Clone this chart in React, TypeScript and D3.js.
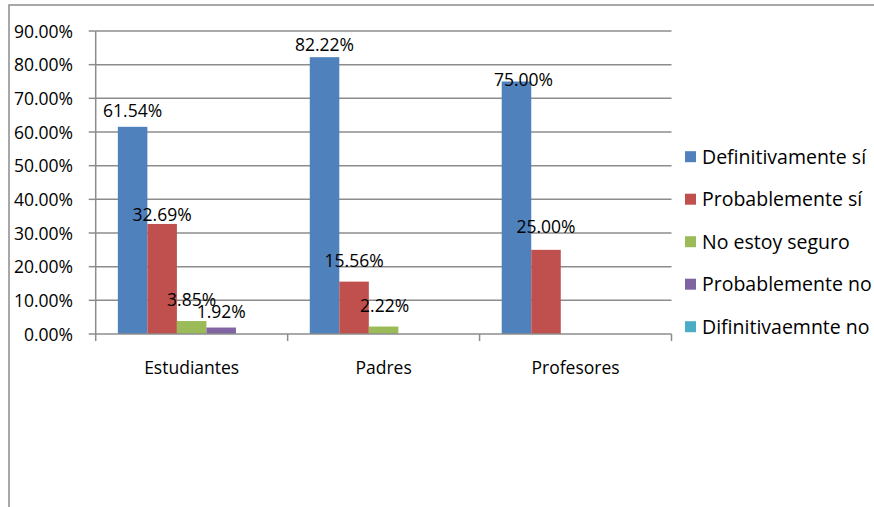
import React from "react";
import * as d3 from "d3";

const categories = ["Estudiantes", "Padres", "Profesores"];
const seriesNames = [
  "Definitivamente sí",
  "Probablemente sí",
  "No estoy seguro",
  "Probablemente no",
  "Difinitivaemnte no",
];
const seriesColors = ["#4F81BD", "#C0504D", "#9BBB59", "#8064A2", "#4BACC6"];
// values[series][category], null = no bar / no label
const definitivamenteSi = [61.54, 82.22, 75.0];
const probablementeSi = [32.69, 15.56, 25.0];
const noEstoySeguro = [3.85, 2.22, null];
const probablementeNo = [1.92, null, null];
const difinitivamenteNo = [null, null, null];
const seriesValues = [definitivamenteSi, probablementeSi, noEstoySeguro, probablementeNo, difinitivamenteNo];
const yTicks = [0, 10, 20, 30, 40, 50, 60, 70, 80, 90];

// label placement tweaks (px) [series][category]: [dx, dy above bar top]
const labelShift: Array<Array<[number, number]>> = [
  [[0, 10], [0, 6], [7, -4]],
  [[0, 3], [0, 15], [0, 17]],
  [[0, 15], [1, 15], [0, 0]],
  [[0, 10], [0, 0], [0, 0]],
  [[0, 0], [0, 0], [0, 0]],
];

const FONT = "'Open Sans', sans-serif";

export default function App() {
  const W = 874;
  const H = 507;
  const left = 95.7;
  const right = 671.5;
  const top = 31;
  const bottom = 334;

  const y = d3.scaleLinear().domain([0, 90]).range([bottom, top]);
  const x0 = d3.scaleBand().domain(categories).range([left, right]).paddingInner(0).paddingOuter(0);
  const x1 = d3
    .scaleBand()
    .domain(seriesNames)
    .range([0, x0.bandwidth()])
    .paddingOuter(0.75)
    .paddingInner(0);

  const grid = "#8C8C8C";
  const fs = 17.5;
  const legendFs = 19.5;

  return (
    <svg
      width={W}
      height={H}
      style={{ position: "absolute", left: 0, top: 0, background: "#fff" }}
      fontFamily={FONT}
    >
      <rect x={0} y={0} width={W} height={H} fill="#fff" />
      {/* outer chart border */}
      <rect x={9} y={5} width={W + 20} height={H + 20} fill="none" stroke="#8C8C8C" strokeWidth={1.5} />

      {/* gridlines */}
      {yTicks.map((t) => (
        <g key={t}>
          {t > 0 && (
            <line x1={left} x2={right} y1={y(t)} y2={y(t)} stroke={grid} strokeWidth={1.5} />
          )}
          <line x1={left - 7} x2={left} y1={y(t)} y2={y(t)} stroke={grid} strokeWidth={1.5} />
          <text
            x={73}
            y={y(t)}
            dy="0.38em"
            textAnchor="end"
            fontSize={fs}
            fill="#000"
          >
            {t.toFixed(2) + "%"}
          </text>
        </g>
      ))}

      {/* bars */}
      {seriesValues.map((vals, si) =>
        vals.map((v, ci) =>
          v == null ? null : (
            <rect
              key={`${si}-${ci}`}
              x={(x0(categories[ci]) as number) + (x1(seriesNames[si]) as number)}
              y={y(v)}
              width={x1.bandwidth()}
              height={bottom - y(v)}
              fill={seriesColors[si]}
            />
          )
        )
      )}

      {/* axes */}
      <line x1={left} x2={left} y1={top} y2={bottom} stroke={grid} strokeWidth={1.5} />
      <line x1={left} x2={right} y1={bottom} y2={bottom} stroke={grid} strokeWidth={1.5} />
      {[...categories.map((c) => x0(c) as number), right].map((xx, i) => (
        <line key={i} x1={xx} x2={xx} y1={bottom} y2={bottom + 7} stroke={grid} strokeWidth={1.5} />
      ))}

      {/* data labels */}
      {seriesValues.map((vals, si) =>
        vals.map((v, ci) =>
          v == null ? null : (
            <text
              key={`l${si}-${ci}`}
              x={(x0(categories[ci]) as number) + (x1(seriesNames[si]) as number) + x1.bandwidth() / 2 + labelShift[si][ci][0]}
              y={y(v) - labelShift[si][ci][1]}
              textAnchor="middle"
              fontSize={fs}
              fill="#000"
            >
              {v.toFixed(2) + "%"}
            </text>
          )
        )
      )}

      {/* category labels */}
      {categories.map((c) => (
        <text
          key={c}
          x={(x0(c) as number) + x0.bandwidth() / 2}
          y={374}
          textAnchor="middle"
          fontSize={fs}
          fill="#000"
        >
          {c}
        </text>
      ))}

      {/* legend */}
      {seriesNames.map((s, i) => {
        const cy = 156.7 + i * 42.5;
        return (
          <g key={s}>
            <rect x={685} y={cy - 5.5} width={11} height={11} fill={seriesColors[i]} />
            <text x={702} y={cy} dy="0.36em" fontSize={legendFs} fill="#000">
              {s}
            </text>
          </g>
        );
      })}
    </svg>
  );
}
